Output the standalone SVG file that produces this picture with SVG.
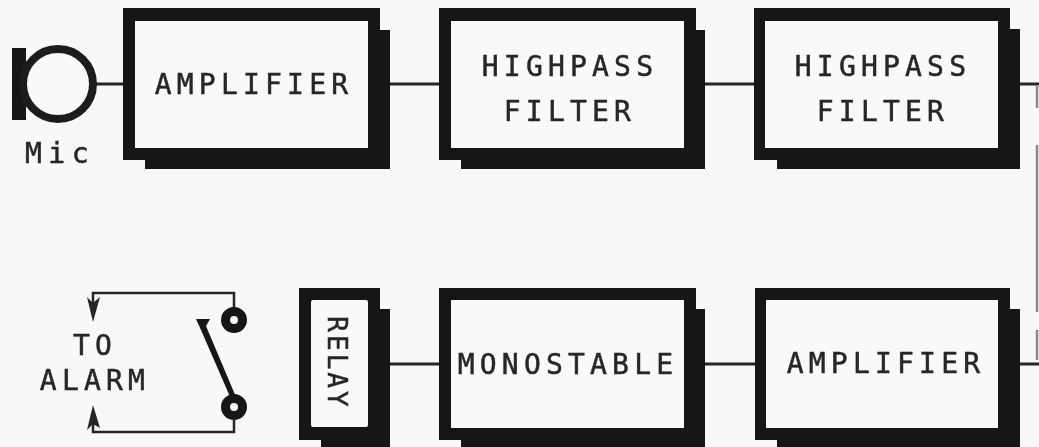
<svg xmlns="http://www.w3.org/2000/svg" width="1039" height="447" viewBox="0 0 1039 447">
<defs>
<filter id="soft" x="0" y="0" width="100%" height="100%" filterUnits="userSpaceOnUse"><feGaussianBlur stdDeviation="0.6"/></filter>
</defs>
<style>
.bg{fill:#f8f8f8}
.sh{fill:#161616}
.in{fill:#f9f9f9}
.w{fill:none;stroke:#262626;stroke-width:3}
.n{fill:none;stroke:#262626;stroke-width:2.5}
.f{fill:none;stroke:#8a8a8a;stroke-width:2.5}
.t{font-family:"DejaVu Sans Mono","Liberation Mono",monospace;font-size:28px;fill:#262626;stroke:#262626;stroke-width:0.5;text-anchor:middle;letter-spacing:5.2px}
</style>
<rect class="bg" width="1039" height="447"/>
<g filter="url(#soft)">
<g id="connectors">
<path class="w" d="M92 84H126M380 84H442M696 84H756M1018 84H1039M380 364H442M696 364H756M1018 364H1039"/>
<path class="f" d="M1037 86V108M1037 145V312M1037 330V360"/>
<path class="n" d="M234 308V293H93V304M234 420V432H93V424"/>
<path fill="#262626" d="M87 297L93 303 100 297 93 322ZM87 430L93 424 100 428 93 405Z"/>
</g>
<g id="mic">
<rect class="sh" x="12" y="48" width="14" height="72"/>
<circle cx="58" cy="84" r="35" fill="#f9f9f9" stroke="#1c1c1c" stroke-width="8"/>
<text class="t" x="60" y="163" style="letter-spacing:6.5px">Mic</text>
</g>
<g id="amp1">
<path class="sh" d="M123 8H380V30H390V169H145V160H123Z"/>
<rect class="in" x="135" y="21" width="233" height="127"/>
<text class="t" x="254" y="94">AMPLIFIER</text>
</g>
<g id="hp1">
<path class="sh" d="M439 8H696V30H705V169H461V160H439Z"/>
<rect class="in" x="451" y="21" width="233" height="127"/>
<text class="t" x="570" y="76" >HIGHPASS</text>
<text class="t" x="570" y="121">FILTER</text>
</g>
<g id="hp2">
<path class="sh" d="M754 8H1010V29H1020V169H777V160H754Z"/>
<rect class="in" x="765" y="21" width="233" height="127"/>
<text class="t" x="883" y="76">HIGHPASS</text>
<text class="t" x="883" y="121">FILTER</text>
</g>
<g id="switch">
<circle cx="234" cy="320" r="8.5" fill="#f9f9f9" stroke="#161616" stroke-width="9"/>
<circle cx="234" cy="407" r="8.5" fill="#f9f9f9" stroke="#161616" stroke-width="9"/>
<path fill="#161616" d="M196 319L210 319 206 326 236 397 231 399 201 330Z"/>
<text class="t" x="95" y="355">TO</text>
<text class="t" x="95" y="390">ALARM</text>
</g>
<g id="relay">
<path class="sh" d="M299 288H380V309H390V447H321V440H299Z"/>
<rect class="in" x="311" y="300" width="57" height="127" rx="2"/>
<text class="t" transform="translate(328 363) rotate(90)" style="font-size:26px;letter-spacing:3px">RELAY</text>
</g>
<g id="mono">
<path class="sh" d="M439 288H696V309H705V447H461V440H439Z"/>
<rect class="in" x="451" y="300" width="233" height="128"/>
<text class="t" x="568" y="374">MONOSTABLE</text>
</g>
<g id="amp2">
<path class="sh" d="M755 288H1010V309H1020V447H777V440H755Z"/>
<rect class="in" x="766" y="300" width="232" height="128"/>
<text class="t" x="886" y="373">AMPLIFIER</text>
</g>
</g>
</svg>
